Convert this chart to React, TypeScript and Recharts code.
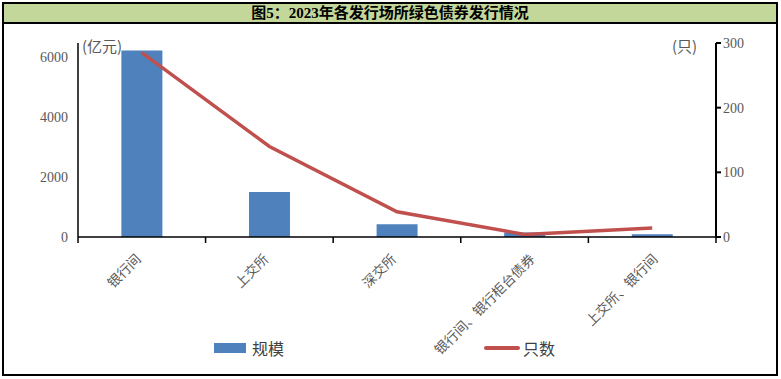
import React from 'react';
import {
  ComposedChart,
  Bar,
  Line,
  XAxis,
  YAxis,
  Legend,
} from 'recharts';

const venues = ['银行间', '上交所', '深交所', '银行间、银行柜台债券', '上交所、银行间'];
const scale = [6200, 1500, 420, 150, 90];
const counts = [285, 140, 39, 4, 14];
const leftTicks = [0, 2000, 4000, 6000];
const rightTicks = [0, 100, 200, 300];

const data = venues.map((name, i) => ({ name, scale: scale[i], count: counts[i] }));

const BAND = 637.7 / 5;

const VenueTick = (props: any) => {
  const { x, y, payload, index } = props;
  const label: string = payload.value;
  const shift = (label.length - 3) * 1.6;
  const ax = x + shift;
  const ay = y + 15;
  return (
    <g>
      <line x1={x + BAND / 2} x2={x + BAND / 2} y1={y - 8} y2={y - 2} stroke="#000" strokeWidth={1.5} />
      {index === 0 && (
        <line x1={x - BAND / 2} x2={x - BAND / 2} y1={y - 8} y2={y - 2} stroke="#000" strokeWidth={1.5} />
      )}
      <text
        x={ax}
        y={ay}
        transform={`rotate(-45, ${ax}, ${ay})`}
        textAnchor="end"
        fontSize={13.5}
        fontFamily="'Noto Sans CJK SC', sans-serif"
        fill="#595959"
      >
        {label}
      </text>
    </g>
  );
};

// bar entry on the left, line entry on the right
const legendLeft: Record<string, number> = { rect: 214, line: 484 };

const LegendBox = ({ payload }: any) => (
  <div style={{ position: 'relative', width: 781, height: 24 }}>
    {(payload || []).map((item: any) => (
      <div
        key={item.value}
        style={{
          position: 'absolute',
          left: legendLeft[item.type] ?? 0,
          top: 0,
          display: 'flex',
          alignItems: 'center',
          height: 24,
          fontSize: 16,
          color: '#404040',
          fontFamily: "'Noto Sans CJK SC', sans-serif",
        }}
      >
        {item.type === 'rect' ? (
          <span style={{ width: 32, height: 10, background: item.color, marginRight: 6 }} />
        ) : (
          <span style={{ width: 36, height: 4, borderRadius: 2, background: item.color, marginRight: 3 }} />
        )}
        {item.value}
      </div>
    ))}
  </div>
);

export default function App() {
  return (
    <div style={{ position: 'absolute', left: 0, top: 0, width: 781, height: 379, background: '#fff' }}>
      <div
        style={{
          position: 'absolute',
          left: 2,
          top: 2,
          width: 776,
          height: 374,
          boxSizing: 'border-box',
          border: '2px solid #000',
        }}
      >
        <div
          style={{
            height: 18,
            background: '#c4d79b',
            borderBottom: '2px solid #000',
            textAlign: 'center',
            fontSize: 15,
            lineHeight: '18px',
            fontWeight: 'bold',
            fontFamily: "'Liberation Serif', 'Noto Sans CJK SC', serif",
            color: '#000',
          }}
        >
          图5：2023年各发行场所绿色债券发行情况
        </div>
      </div>
      <div
        style={{
          position: 'absolute',
          left: 82,
          top: 35,
          fontSize: 15,
          color: '#595959',
          fontFamily: "'Noto Sans CJK SC', sans-serif",
        }}
      >
        (亿元)
      </div>
      <div
        style={{
          position: 'absolute',
          left: 672,
          top: 35,
          fontSize: 15,
          color: '#595959',
          fontFamily: "'Noto Sans CJK SC', sans-serif",
        }}
      >
        (只)
      </div>
      <div style={{ position: 'absolute', left: 0, top: 0 }}>
        <ComposedChart
          width={781}
          height={379}
          data={data}
          margin={{ top: 43, right: 0, left: 0, bottom: 62 }}
          barCategoryGap="34%"
        >
          <XAxis
            dataKey="name"
            xAxisId="x"
            interval={0}
            height={80}
            tickLine={false}
            axisLine={{ stroke: '#000', strokeWidth: 1.5 }}
            tick={<VenueTick />}
          />
          <YAxis
            yAxisId="left"
            width={78}
            domain={[0, 6450]}
            ticks={leftTicks}
            tickLine={false}
            tickSize={5}
            tickMargin={5}
            axisLine={{ stroke: '#000', strokeWidth: 1.5 }}
            tick={{ fill: '#595959', fontSize: 14, fontFamily: "'Liberation Serif', serif" }}
          />
          <YAxis
            yAxisId="right"
            orientation="right"
            width={65}
            domain={[0, 300]}
            ticks={rightTicks}
            tickSize={5}
            tickMargin={2}
            tickLine={{ stroke: '#000', strokeWidth: 2 }}
            axisLine={{ stroke: '#000', strokeWidth: 2 }}
            tick={{ fill: '#595959', fontSize: 14, fontFamily: "'Liberation Serif', serif", textAnchor: 'start' }}
          />
          <Legend
            layout="vertical"
            align="center"
            verticalAlign="middle"
            wrapperStyle={{ position: 'absolute', left: 0, top: 336, width: 781 }}
            content={<LegendBox />}
          />
          <Bar
            xAxisId="x"
            yAxisId="left"
            dataKey="scale"
            name="规模"
            fill="#4f81bd"
            legendType="rect"
            isAnimationActive={false}
          />
          <Line
            xAxisId="x"
            yAxisId="right"
            dataKey="count"
            name="只数"
            type="linear"
            stroke="#c0504d"
            strokeWidth={3.5}
            dot={false}
            legendType="line"
            isAnimationActive={false}
          />
        </ComposedChart>
      </div>
    </div>
  );
}
